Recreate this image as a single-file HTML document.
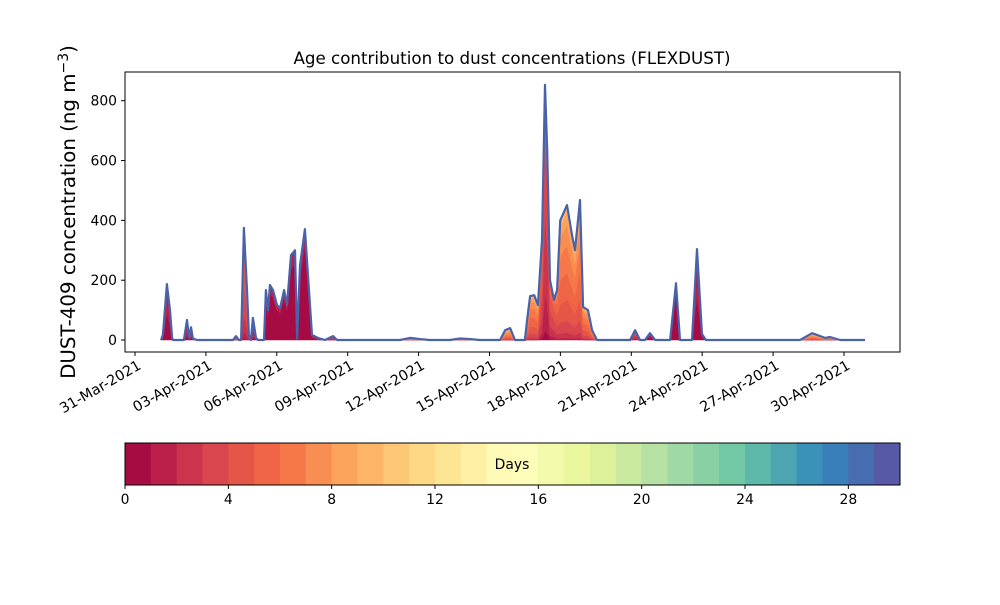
<!DOCTYPE html>
<html><head><meta charset="utf-8">
<style>
body{margin:0;background:#fff;}
svg text{font-family:"DejaVu Sans","Liberation Sans",sans-serif;fill:#000;}
</style></head>
<body>
<svg id="chart" width="1000" height="600" viewBox="0 0 1000 600" xmlns="http://www.w3.org/2000/svg">
<rect width="1000" height="600" fill="#fff"/>
<text x="512" y="64" text-anchor="middle" font-size="16.7">Age contribution to dust concentrations (FLEXDUST)</text>
<text transform="translate(75,212) rotate(-90)" text-anchor="middle" font-size="19.8">DUST-409 concentration (ng m<tspan font-size="14" dy="-7">−3</tspan><tspan dy="7">)</tspan></text>
<g id="plot"></g>
<g id="cbar"></g>
</svg>
<script>
const days = [1.10,1.18,1.35,1.48,1.57,1.61,2.07,2.20,2.29,2.37,2.45,2.62,4.15,4.27,4.40,4.49,4.61,4.74,4.82,4.91,4.99,5.12,5.21,5.46,5.54,5.63,5.71,5.84,6.01,6.14,6.31,6.43,6.60,6.77,6.86,6.98,7.19,7.49,7.74,8.04,8.38,8.55,11.21,11.64,12.06,12.48,13.33,13.75,14.18,14.60,15.45,15.66,15.87,16.08,16.50,16.59,16.72,16.89,17.05,17.22,17.35,17.44,17.56,17.73,17.86,17.99,18.28,18.49,18.62,18.83,18.96,19.17,19.34,19.55,20.95,21.16,21.37,21.58,21.79,22.01,22.64,22.89,23.06,23.57,23.78,23.99,24.16,28.14,28.65,29.20,29.41,29.84,30.89];
const totals = [0,17,187,100,7,0,0,67,7,43,5,0,0,13,0,0,375,167,17,0,74,7,0,0,167,100,184,167,117,107,167,117,284,300,5,250,371,17,7,0,13,0,0,7,3,0,0,5,3,0,0,33,40,0,0,67,147,150,117,334,853,635,200,134,167,400,451,351,300,468,110,100,33,0,0,33,0,0,23,0,0,190,0,0,304,20,0,0,23,7,10,0,0];
const meanAge = [1,1,1,1,1,1,1.5,1.5,1.5,1.5,1.5,1.5,5,5,5,4,4,4,3,2,2,2,2,0.5,0.5,0.5,0.5,0.5,0.5,0.5,0.5,0.5,0.5,0.5,0.5,0.5,0.5,1,2,3,3,3,8,8,8,8,8,8,8,8,8,7,7,7,6,6,6,6,6,4,3,3,4,4,5,6,6,6,6,6,6,6,6,6,3,3,3,2,1,1,0.5,0.5,0.5,1,1,1,1,7,7,7,7,7,7];
const yTicks = [0,200,400,600,800];
const xTickDays = [0,3,6,9,12,15,18,21,24,27,30];
const xTickLabels = ["31-Mar-2021","03-Apr-2021","06-Apr-2021","09-Apr-2021","12-Apr-2021","15-Apr-2021","18-Apr-2021","21-Apr-2021","24-Apr-2021","27-Apr-2021","30-Apr-2021"];
const cbTicks = [0,4,8,12,16,20,24,28];
const NL = 30;

const NS="http://www.w3.org/2000/svg";
const L=125,R=900,T=72,B=352;
const xd0=-0.423,xd1=32.37,y0=-40,y1=896;
const X=d=>L+(d-xd0)/(xd1-xd0)*(R-L);
const Y=v=>B-(v-y0)/(y1-y0)*(B-T);
function el(tag,attrs,parent){const e=document.createElementNS(NS,tag);for(const k in attrs)e.setAttribute(k,attrs[k]);parent.appendChild(e);return e;}
const anchors=["#9e0142","#d53e4f","#f46d43","#fdae61","#fee08b","#ffffbf","#e6f598","#abdda4","#66c2a5","#3288bd","#5e4fa2"];
function hex(h){return [1,3,5].map(i=>parseInt(h.substr(i,2),16));}
function spectral(t){const p=t*10,i=Math.min(9,Math.floor(p)),f=p-i;const a=hex(anchors[i]),b=hex(anchors[i+1]);return "rgb("+a.map((v,j)=>Math.round(v+(b[j]-v)*f)).join(",")+")";}
const colors=[];for(let k=0;k<NL;k++)colors.push(spectral((k+0.5)/NL));

const plot=document.getElementById('plot');
const W=days.map((d,i)=>{const m=meanAge[i];let w=[];let s=0;for(let k=0;k<NL;k++){const v=Math.exp(-Math.pow((k+0.5-m)/(0.6+m*0.35),2));w.push(v);s+=v;}return w.map(v=>v/s);});
let base=days.map(()=>0);
for(let k=0;k<NL;k++){
  const top=days.map((d,i)=>base[i]+totals[i]*W[i][k]);
  let pts=days.map((d,i)=>X(d).toFixed(1)+","+Y(top[i]).toFixed(1));
  for(let i=days.length-1;i>=0;i--)pts.push(X(days[i]).toFixed(1)+","+Y(base[i]).toFixed(1));
  const p=el('polygon',{points:pts.join(" "),fill:colors[k],stroke:colors[k],'stroke-width':0.5},plot);
  
  
  base=top;
}
const line=el('polyline',{points:days.map((d,i)=>X(d).toFixed(1)+","+Y(totals[i]).toFixed(1)).join(" "),fill:"none",stroke:"#4a62aa",'stroke-width':2.2,'stroke-linejoin':'round'},plot);


const frame=el('rect',{x:L,y:T,width:R-L,height:B-T,fill:"none",stroke:"#000",'stroke-width':1},plot);


yTicks.forEach(v=>{
  const g=el('g',{},plot);
  
  
  el('line',{x1:L-4,x2:L,y1:Y(v),y2:Y(v),stroke:"#000"},g);
  const t=el('text',{x:L-8,y:Y(v)+5,'text-anchor':'end','font-size':13.9},g);t.textContent=v;
});
xTickDays.forEach((d,i)=>{
  const g=el('g',{},plot);
  
  
  el('line',{x1:X(d),x2:X(d),y1:B,y2:B+4,stroke:"#000"},g);
  const t=el('text',{x:X(d)+4,y:B+17,'text-anchor':'end','font-size':14.3,transform:"rotate(-30 "+(X(d)+4)+" "+(B+11)+")"},g);t.textContent=xTickLabels[i];
});
const cb=document.getElementById('cbar');
const cL=125,cR=900,cT=443,cB=485;
const CX=v=>cL+v/NL*(cR-cL);
for(let k=0;k<NL;k++){
  const r=el('rect',{x:CX(k),y:cT,width:CX(k+1)-CX(k)+0.5,height:cB-cT,fill:colors[k]},cb);
  
  
}
el('rect',{x:cL,y:cT,width:cR-cL,height:cB-cT,fill:"none",stroke:"#000"},cb);
cbTicks.forEach(v=>{
  el('line',{x1:CX(v),x2:CX(v),y1:cB,y2:cB+4,stroke:"#000"},cb);
  const t=el('text',{x:CX(v),y:cB+19,'text-anchor':'middle','font-size':13.9},cb);t.textContent=v;
  
  
});
const lbl=el('text',{x:512,y:469,'text-anchor':'middle','font-size':13.9},cb);lbl.textContent="Days";


</script>
</body></html>
